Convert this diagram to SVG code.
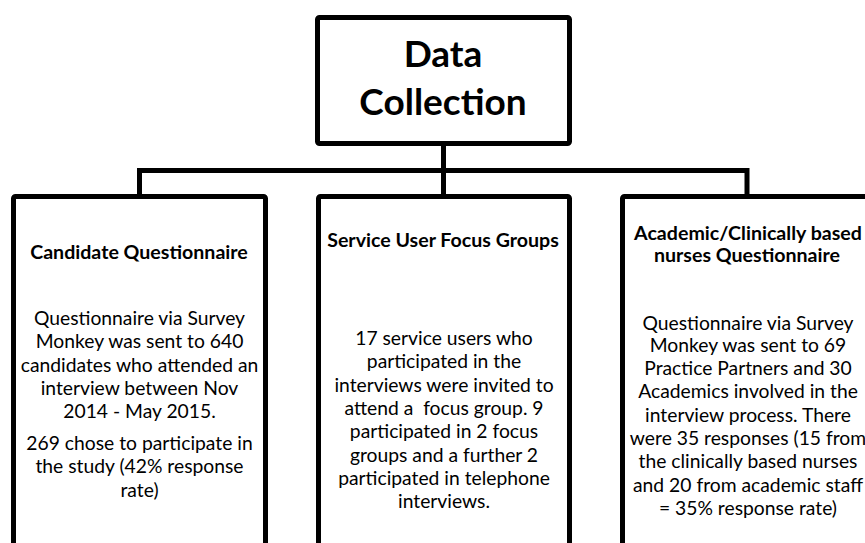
<svg xmlns="http://www.w3.org/2000/svg" width="865" height="543" viewBox="0 0 865 543">
<style>
.box{fill:#fff;stroke:#000;stroke-width:5}
.con{fill:none;stroke:#000;stroke-width:5}
text{font-family:Lato,"Open Sans",sans-serif;fill:#000;text-anchor:middle}
.title{font-size:37px;font-weight:bold}
.head{font-size:19.6px;font-weight:bold}
.body{font-size:19.3px}
</style>
<rect width="865" height="543" fill="#fff"/>
<g id="connectors">
<path class="con" d="M443.5 146V170.5M139.5 194V170.5H747V194M443.5 170.5V194"/>
</g>
<g id="data-collection">
<rect class="box" x="317.5" y="17.5" width="252" height="126" rx="2"/>
<text class="title" x="443" y="67">Data</text>
<text class="title" x="443" y="115">Collection</text>
</g>
<g id="candidate-questionnaire">
<rect class="box" x="13.5" y="196.5" width="252" height="380" rx="2"/>
<text class="head" x="139" y="259">Candidate Questionnaire</text>
<text class="body" x="139.5" y="325">Questionnaire via Survey</text>
<text class="body" x="139.5" y="348.3">Monkey was sent to 640</text>
<text class="body" x="139.5" y="371.7">candidates who attended an</text>
<text class="body" x="139.5" y="395">interview between Nov</text>
<text class="body" x="139.5" y="418.3">2014 - May 2015.</text>
<text class="body" x="139.5" y="450">269 chose to participate in</text>
<text class="body" x="139.5" y="473.3">the study (42% response</text>
<text class="body" x="139.5" y="496.7">rate)</text>
</g>
<g id="service-user-focus-groups">
<rect class="box" x="318.5" y="196.5" width="251" height="380" rx="2"/>
<text class="head" x="443" y="247.3">Service User Focus Groups</text>
<text class="body" x="444" y="345">17 service users who</text>
<text class="body" x="444" y="368.3">participated in the</text>
<text class="body" x="444" y="391.7">interviews were invited to</text>
<text class="body" x="444" y="415" xml:space="preserve">attend a  focus group. 9</text>
<text class="body" x="444" y="438.3">participated in 2 focus</text>
<text class="body" x="444" y="461.7">groups and a further 2</text>
<text class="body" x="444" y="485">participated in telephone</text>
<text class="body" x="444" y="508.3">interviews.</text>
</g>
<g id="academic-clinical-questionnaire">
<rect class="box" x="622.5" y="196.5" width="250" height="380" rx="2"/>
<text class="head" x="748" y="240">Academic/Clinically based</text>
<text class="head" x="747" y="261.7">nurses Questionnaire</text>
<text class="body" x="748" y="330">Questionnaire via Survey</text>
<text class="body" x="748" y="351.7">Monkey was sent to 69</text>
<text class="body" x="748" y="375">Practice Partners and 30</text>
<text class="body" x="748" y="398.3">Academics involved in the</text>
<text class="body" x="748" y="421.7">interview process. There</text>
<text class="body" x="748" y="445">were 35 responses (15 from</text>
<text class="body" x="748" y="468.3">the clinically based nurses</text>
<text class="body" x="748" y="491.7">and 20 from academic staff</text>
<text class="body" x="748" y="515">= 35% response rate)</text>
</g>
</svg>
